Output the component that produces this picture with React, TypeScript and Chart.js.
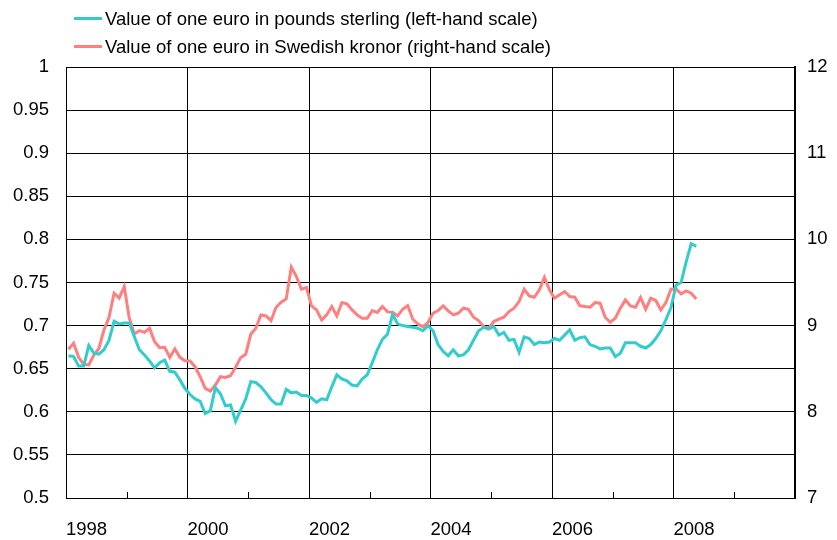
import React, { useEffect, useRef } from "react";
import { Chart, registerables } from "chart.js";

Chart.register(...registerables);

// ---- Data (monthly averages, Jan 1998 – May 2008) ----
const START_YEAR = 1998;

const seriesNames = [
  "Value of one euro in pounds sterling (left-hand scale)",
  "Value of one euro in Swedish kronor (right-hand scale)",
];

// Value of one euro in pounds sterling (left-hand scale)
const poundsSterling = [
  0.665, 0.664, 0.653, 0.653, 0.677, 0.668, 0.667, 0.672, 0.683, 0.705, 0.702, 0.703, // 1998
  0.703, 0.687, 0.672, 0.666, 0.659, 0.651, 0.657, 0.660, 0.647, 0.646, 0.637, 0.627, // 1999
  0.620, 0.615, 0.612, 0.598, 0.601, 0.628, 0.621, 0.607, 0.608, 0.589, 0.602, 0.615, // 2000
  0.635, 0.634, 0.629, 0.622, 0.614, 0.609, 0.609, 0.626, 0.622, 0.623, 0.619, 0.619, // 2001
  0.616, 0.611, 0.615, 0.614, 0.629, 0.643, 0.638, 0.636, 0.631, 0.630, 0.638, 0.643, // 2002
  0.657, 0.672, 0.684, 0.690, 0.713, 0.702, 0.700, 0.699, 0.698, 0.697, 0.694, 0.700, // 2003
  0.694, 0.678, 0.670, 0.665, 0.672, 0.665, 0.666, 0.672, 0.683, 0.694, 0.698, 0.696, // 2004
  0.699, 0.689, 0.692, 0.683, 0.684, 0.669, 0.687, 0.685, 0.678, 0.681, 0.680, 0.681, // 2005
  0.685, 0.683, 0.689, 0.695, 0.683, 0.686, 0.687, 0.678, 0.676, 0.673, 0.674, 0.674, // 2006
  0.664, 0.668, 0.680, 0.680, 0.680, 0.676, 0.674, 0.678, 0.685, 0.694, 0.707, 0.721, // 2007
  0.747, 0.750, 0.774, 0.795, 0.792, // 2008
];

// Value of one euro in Swedish kronor (right-hand scale)
const swedishKronor = [
  8.725, 8.795, 8.632, 8.550, 8.543, 8.659, 8.736, 8.950, 9.097, 9.376, 9.318, 9.453, // 1998
  9.085, 8.903, 8.942, 8.922, 8.969, 8.814, 8.744, 8.748, 8.632, 8.729, 8.632, 8.593, // 1999
  8.590, 8.523, 8.407, 8.271, 8.240, 8.310, 8.407, 8.399, 8.419, 8.516, 8.628, 8.667, // 2000
  8.899, 8.969, 9.124, 9.112, 9.058, 9.213, 9.271, 9.310, 9.678, 9.570, 9.422, 9.442, // 2001
  9.229, 9.182, 9.066, 9.124, 9.221, 9.112, 9.267, 9.252, 9.182, 9.124, 9.085, 9.085, // 2002
  9.174, 9.151, 9.221, 9.159, 9.155, 9.112, 9.190, 9.233, 9.074, 9.019, 8.988, 9.035, // 2003
  9.143, 9.174, 9.229, 9.171, 9.124, 9.143, 9.202, 9.190, 9.097, 9.058, 8.988, 8.969, // 2004
  9.047, 9.074, 9.097, 9.163, 9.202, 9.279, 9.422, 9.345, 9.329, 9.415, 9.558, 9.415, // 2005
  9.318, 9.357, 9.395, 9.337, 9.329, 9.229, 9.221, 9.213, 9.267, 9.260, 9.097, 9.039, // 2006
  9.085, 9.202, 9.298, 9.229, 9.213, 9.326, 9.190, 9.318, 9.291, 9.182, 9.267, 9.422, // 2007
  9.426, 9.368, 9.403, 9.376, 9.310, // 2008
];

const yearTicks = [1998, 1999, 2000, 2001, 2002, 2003, 2004, 2005, 2006, 2007, 2008, 2009, 2010];
const yearLabels = [1998, 2000, 2002, 2004, 2006, 2008];
const gridYears = [2000, 2002, 2004, 2006, 2008];
const leftTicks = [0.5, 0.55, 0.6, 0.65, 0.7, 0.75, 0.8, 0.85, 0.9, 0.95, 1];
const rightTicks = [7, 8, 9, 10, 11, 12];

const TEAL = "#33CCCC";
const SALMON = "#FF7F7F";
const FONT_FAMILY = '"Liberation Sans", Arial, sans-serif';
const FONT_SIZE = 18.5;

const toPoints = (vals: number[]) =>
  vals.map((v, i) => ({ x: START_YEAR + (i + 0.5) / 12, y: v }));

const legendPlugin = {
  id: "customLegend",
  afterDraw(chart: any) {
    const ctx = chart.ctx;
    ctx.save();
    chart.data.datasets.forEach((ds: any, i: number) => {
      const y = 18.5 + i * 28;
      ctx.strokeStyle = ds.borderColor;
      ctx.lineWidth = 3;
      ctx.beginPath();
      ctx.moveTo(74, y);
      ctx.lineTo(102, y);
      ctx.stroke();
      ctx.fillStyle = "#000";
      ctx.font = `${FONT_SIZE}px ${FONT_FAMILY}`;
      ctx.textBaseline = "middle";
      ctx.textAlign = "left";
      ctx.fillText(ds.label, 105, y + 1);
    });
    ctx.restore();
  },
};

const minorTickPlugin = {
  id: "minorTicks",
  afterDraw(chart: any) {
    const ctx = chart.ctx;
    const xs = chart.scales.x;
    const bottom = chart.chartArea.bottom;
    ctx.save();
    ctx.strokeStyle = "#000";
    ctx.lineWidth = 1;
    yearTicks.forEach((yr) => {
      if (yr % 2 === 1) {
        const px = Math.round(xs.getPixelForValue(yr)) + 0.5;
        ctx.beginPath();
        ctx.moveTo(px, bottom);
        ctx.lineTo(px, bottom - 6);
        ctx.stroke();
      }
    });
    ctx.restore();
  },
};

export default function App() {
  const ref = useRef<HTMLCanvasElement | null>(null);

  useEffect(() => {
    if (!ref.current) return;
    Chart.defaults.color = "#000";
    Chart.defaults.font.family = FONT_FAMILY;
    Chart.defaults.font.size = FONT_SIZE;

    const chart = new Chart(ref.current, {
      type: "line",
      data: {
        datasets: [
          {
            label: seriesNames[0],
            data: toPoints(poundsSterling),
            borderColor: TEAL,
            backgroundColor: TEAL,
            borderWidth: 3,
            pointRadius: 0,
            tension: 0,
            yAxisID: "y",
          },
          {
            label: seriesNames[1],
            data: toPoints(swedishKronor),
            borderColor: SALMON,
            backgroundColor: SALMON,
            borderWidth: 3,
            pointRadius: 0,
            tension: 0,
            yAxisID: "y2",
          },
        ],
      },
      options: {
        animation: false,
        responsive: false,
        devicePixelRatio: 1,
        layout: { padding: { top: 67, left: 0, right: 0, bottom: 0 } },
        plugins: {
          legend: { display: false },
          tooltip: { enabled: false },
        },
        scales: {
          x: {
            type: "linear",
            min: 1998,
            max: 2010,
            afterBuildTicks: (s: any) => {
              s.ticks = yearTicks.map((v) => ({ value: v }));
            },
            afterFit: (s: any) => {
              s.height = 42;
            },
            grid: {
              drawTicks: false,
              lineWidth: 1,
              color: (c: any) =>
                c.tick && gridYears.includes(c.tick.value) ? "#000" : "rgba(0,0,0,0)",
            },
            border: { display: true, color: "#000", width: 1 },
            ticks: {
              align: "start",
              padding: 21,
              maxRotation: 0,
              autoSkip: false,
              callback: (v: any) => (yearLabels.includes(Number(v)) ? String(v) : ""),
            },
          },
          y: {
            position: "left",
            min: 0.5,
            max: 1,
            afterBuildTicks: (s: any) => {
              s.ticks = leftTicks.map((v) => ({ value: v }));
            },
            afterFit: (s: any) => {
              s.width = 66;
            },
            grid: { color: "#000", lineWidth: 1, drawTicks: false },
            border: { display: true, color: "#000", width: 1 },
            ticks: {
              padding: 17,
              callback: (v: any) => String(Number(Number(v).toFixed(2))),
            },
          },
          y2: {
            position: "right",
            min: 7,
            max: 12,
            afterBuildTicks: (s: any) => {
              s.ticks = rightTicks.map((v) => ({ value: v }));
            },
            afterFit: (s: any) => {
              s.width = 42;
            },
            grid: { display: false, drawTicks: false },
            border: { display: true, color: "#000", width: 2 },
            ticks: { padding: 12 },
          },
        },
      },
      plugins: [legendPlugin, minorTickPlugin],
    } as any);

    return () => chart.destroy();
  }, []);

  return (
    <div style={{ position: "absolute", left: 0, top: 0, width: 837, height: 540, background: "#fff" }}>
      <canvas ref={ref} width={837} height={540} style={{ display: "block", width: 837, height: 540 }} />
    </div>
  );
}
